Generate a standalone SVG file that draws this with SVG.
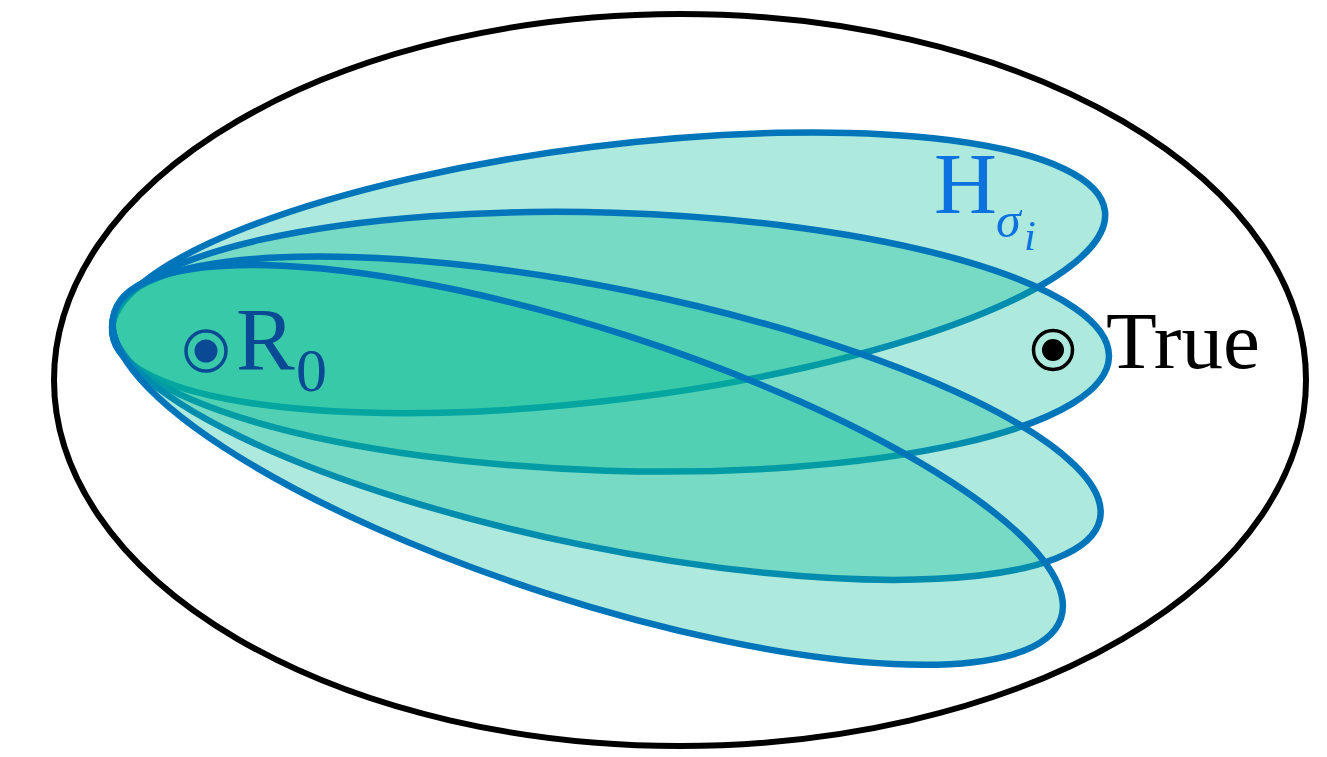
<svg xmlns="http://www.w3.org/2000/svg" width="1327" height="757" viewBox="0 0 1327 757">
  <style>
    .petal { fill: rgb(7,188,149); fill-opacity: 0.33; stroke: #0075ba; stroke-width: 6.5; }
    .serif { font-family: "Liberation Serif", "DejaVu Serif", serif; }
  </style>
  <rect width="1327" height="757" fill="#ffffff"/>
  <g id="universe">
    <ellipse cx="680" cy="380" rx="626" ry="366" fill="none" stroke="#000000" stroke-width="6"/>
  </g>
  <g id="petals">
    <g id="petal1" transform="translate(165,328) rotate(-7.095)"><ellipse class="petal" cx="447.1" cy="0" rx="500.1" ry="127"/></g>
    <g id="petal2" transform="translate(165,328) rotate(1.76)"><ellipse class="petal" cx="445.7" cy="0" rx="498.7" ry="129"/></g>
    <g id="petal3" transform="translate(165,328) rotate(11.545)"><ellipse class="petal" cx="450.65" cy="0" rx="503.65" ry="129"/></g>
    <g id="petal4" transform="translate(165,328) rotate(17.935)"><ellipse class="petal" cx="444.4" cy="0" rx="497.4" ry="135"/></g>
  </g>
  <g id="R0">
    <circle cx="206" cy="351" r="20" fill="none" stroke="#0a4a94" stroke-width="3.5"/>
    <circle cx="206" cy="351" r="11.5" fill="#0a4a94"/>
    <text class="serif" x="236" y="369" font-size="88" fill="#0a4a94">R</text>
    <text class="serif" x="296" y="391" font-size="62" fill="#0a4a94">0</text>
  </g>
  <g id="True">
    <circle cx="1053" cy="350" r="19.5" fill="none" stroke="#000000" stroke-width="3.5"/>
    <circle cx="1053" cy="350" r="11" fill="#000000"/>
    <text class="serif" x="1106" y="368" font-size="80" fill="#000000" textLength="154" lengthAdjust="spacingAndGlyphs">True</text>
  </g>
  <g id="H_sigma_i">
    <text class="serif" x="934" y="213" font-size="87" fill="#0b72e0">H</text>
    <text class="serif" x="996" y="237" font-size="50" font-style="italic" fill="#0b72e0">σ</text>
    <text class="serif" x="1024" y="250" font-size="42" font-style="italic" fill="#0b72e0">i</text>
  </g>
</svg>
